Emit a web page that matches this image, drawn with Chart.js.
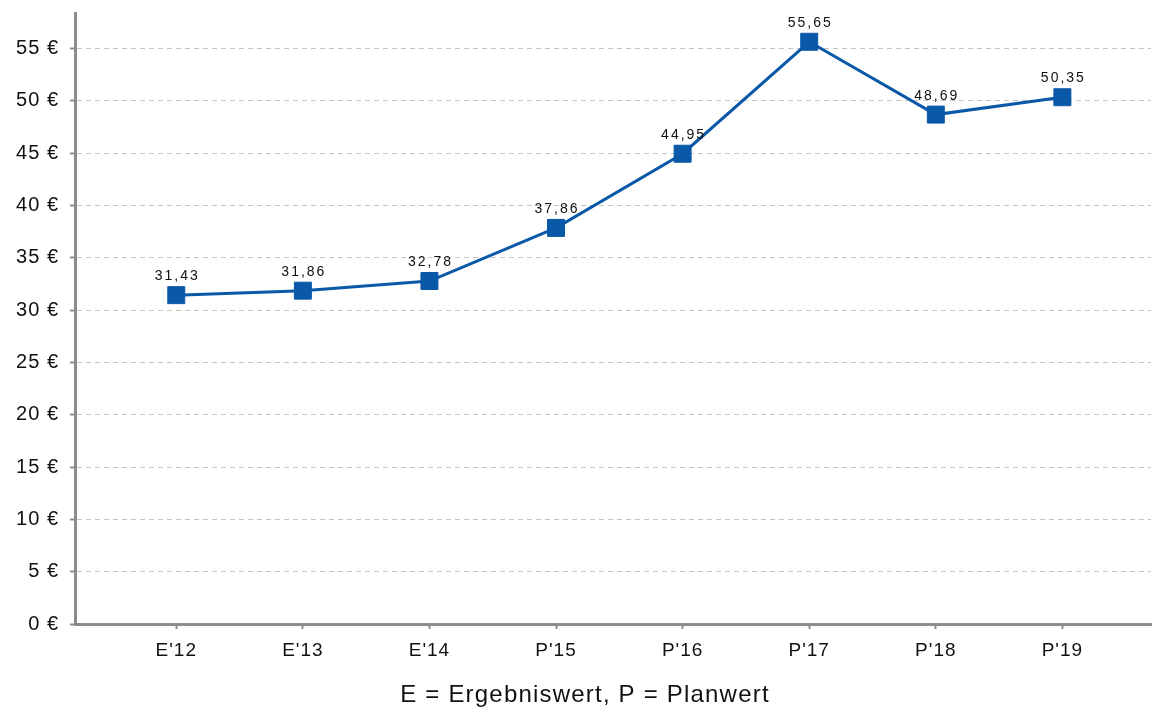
<!DOCTYPE html>
<html>
<head>
<meta charset="utf-8">
<script src="https://cdn.jsdelivr.net/npm/chart.js@4.4.1/dist/chart.umd.min.js"></script>
<style>
  html, body { margin: 0; padding: 0; background: #fff; overflow: hidden; }
  #wrap { width: 1152px; height: 709px; }
  canvas { display: block; }
</style>
</head>
<body>
<div id="wrap"><canvas id="myChart" width="1152" height="709"></canvas></div>
<script>
var labels = ["E'12", "E'13", "E'14", "P'15", "P'16", "P'17", "P'18", "P'19"];
var werte = [31.43, 31.86, 32.78, 37.86, 44.95, 55.65, 48.69, 50.35];
var yTicks = [0, 5, 10, 15, 20, 25, 30, 35, 40, 45, 50, 55];
var untertitel = 'E = Ergebniswert, P = Planwert';

var blau = '#0a58a8';
var achse = '#8c8c8c';
var schrift = '"Liberation Sans", Arial, sans-serif';

// etwas Zeichenabstand wie im Original
var abstand = {
    id: 'abstand',
    beforeDraw: function (chart) { chart.ctx.letterSpacing = '1px'; }
};

// Werte-Beschriftung über den Punkten + Legende unten
var wertLabels = {
    id: 'wertLabels',
    afterDatasetsDraw: function (chart) {
        var ctx = chart.ctx;
        var meta = chart.getDatasetMeta(0);
        ctx.save();
        ctx.font = '14px ' + schrift;
        ctx.letterSpacing = '2px';
        ctx.fillStyle = '#111';
        ctx.textAlign = 'center';
        ctx.textBaseline = 'alphabetic';
        meta.data.forEach(function (pt, i) {
            var txt = werte[i].toFixed(2).replace('.', ',');
            ctx.fillText(txt, pt.x + 1, pt.y - 15);
        });
        ctx.font = '24px ' + schrift;
        ctx.letterSpacing = '1.2px';
        ctx.fillText(untertitel, 585, 702);
        ctx.restore();
    }
};

var ctx = document.getElementById('myChart');
var myChart = new Chart(ctx, {
    type: 'line',
    data: {
        datasets: [{
            data: werte.map(function (v, i) { return { x: i, y: v }; }),
            borderColor: blau,
            backgroundColor: blau,
            borderWidth: 3,
            pointStyle: 'rect',
            pointRadius: 12,
            pointHoverRadius: 12,
            pointBorderWidth: 1,
            pointBorderColor: blau,
            tension: 0,
            clip: false
        }]
    },
    options: {
        responsive: false,
        animation: false,
        layout: { autoPadding: false, padding: { top: 13, right: 1, left: 0, bottom: 0 } },
        plugins: {
            legend: { display: false },
            tooltip: { enabled: false }
        },
        scales: {
            x: {
                type: 'linear',
                min: -0.8,
                max: 7.7,
                afterBuildTicks: function (scale) {
                    scale.ticks = labels.map(function (l, i) { return { value: i }; });
                },
                afterFit: function (scale) {
                    scale.height = 85;
                    scale.paddingLeft = 0;
                    scale.paddingRight = 0;
                },
                ticks: {
                    autoSkip: false,
                    maxRotation: 0,
                    padding: 10,
                    color: '#111',
                    font: { family: schrift, size: 19 },
                    callback: function (v) { return labels[v]; }
                },
                grid: {
                    display: true,
                    drawOnChartArea: false,
                    drawTicks: true,
                    tickLength: 5,
                    tickWidth: 2,
                    tickColor: achse
                },
                border: { display: true, color: achse, width: 3 }
            },
            y: {
                min: 0,
                max: 58.4,
                afterBuildTicks: function (scale) {
                    scale.ticks = yTicks.map(function (v) { return { value: v }; });
                },
                afterFit: function (scale) {
                    scale.width = 75;
                    scale.paddingTop = 0;
                    scale.paddingBottom = 0;
                },
                ticks: {
                    padding: 11,
                    color: '#111',
                    font: { family: schrift, size: 20 },
                    callback: function (v) { return v + ' €'; }
                },
                grid: {
                    color: '#c4c4c4',
                    lineWidth: 1,
                    tickLength: 5,
                    tickColor: achse,
                    tickWidth: 2,
                    tickBorderDash: [],
                    drawTicks: true
                },
                border: { display: true, color: achse, width: 3, dash: [5, 4] }
            }
        }
    },
    plugins: [abstand, wertLabels]
});
</script>
</body>
</html>
